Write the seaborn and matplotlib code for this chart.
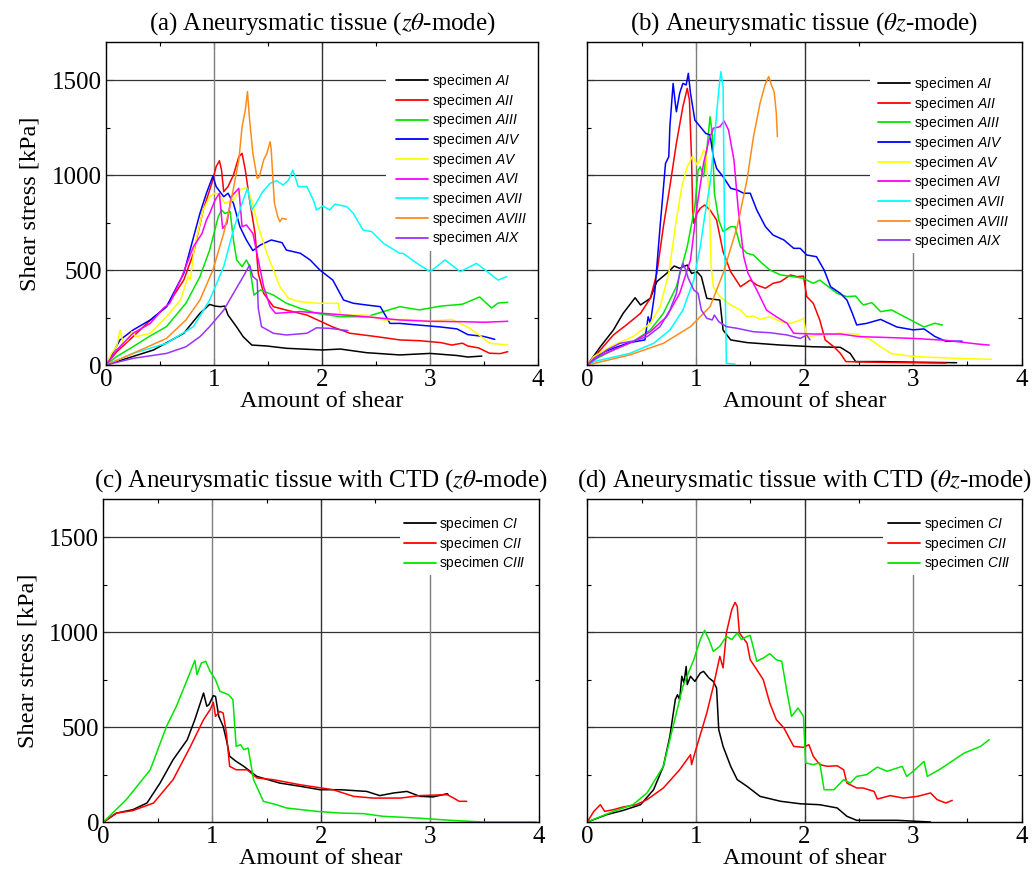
import matplotlib
matplotlib.use("Agg")
import matplotlib.pyplot as plt
import pandas as pd
import seaborn as sns
from matplotlib.lines import Line2D
from matplotlib.ticker import MultipleLocator

# ---------------- data: amount of shear (x) vs. shear stress in kPa (y) ----------------
# (a) aneurysmatic tissue, z-theta mode
A_AI_X = [0, 0.25, 0.44, 0.72, 0.87, 0.96, 1.01, 1.06, 1.10, 1.13, 1.21, 1.27, 1.35, 1.49, 1.67, 2.0, 2.17, 2.41, 2.72, 3.0, 3.25, 3.35, 3.48]
A_AI_Y = [0, 45, 79, 167, 272, 319, 310, 307, 310, 263, 200, 149, 105, 100, 88, 79, 84, 65, 53, 61, 50, 42, 47]
A_AII_X = [0, 0.1, 0.25, 0.4, 0.56, 0.72, 0.81, 0.90, 0.98, 1.02, 1.05, 1.07, 1.09, 1.13, 1.18, 1.23, 1.26, 1.29, 1.33, 1.38, 1.41, 1.46, 1.55, 1.67, 1.86, 2.1, 2.26, 2.51, 2.72, 2.9, 3.1, 3.2, 3.3, 3.35, 3.45, 3.55, 3.65, 3.72]
A_AII_Y = [0, 70, 149, 230, 307, 447, 588, 816, 956, 1044, 1075, 1026, 912, 939, 1000, 1096, 1114, 1026, 868, 693, 482, 377, 307, 289, 263, 200, 167, 149, 132, 128, 118, 105, 115, 100, 90, 62, 60, 70]
A_AIII_X = [0, 0.1, 0.25, 0.4, 0.56, 0.74, 0.87, 0.96, 1.04, 1.07, 1.10, 1.15, 1.18, 1.21, 1.26, 1.30, 1.33, 1.37, 1.43, 1.55, 1.67, 1.80, 1.95, 2.17, 2.41, 2.72, 2.9, 3.1, 3.3, 3.46, 3.57, 3.63, 3.72]
A_AIII_Y = [0, 45, 96, 150, 202, 325, 465, 605, 781, 816, 798, 807, 658, 553, 518, 553, 518, 368, 395, 368, 325, 298, 272, 254, 254, 307, 290, 310, 320, 358, 300, 326, 330]
A_AIV_X = [0, 0.13, 0.25, 0.41, 0.56, 0.72, 0.87, 0.93, 0.99, 1.02, 1.09, 1.13, 1.18, 1.24, 1.30, 1.36, 1.43, 1.53, 1.63, 1.67, 1.80, 1.89, 1.98, 2.1, 2.2, 2.29, 2.41, 2.54, 2.63, 2.72, 2.9, 3.1, 3.25, 3.35, 3.5, 3.6]
A_AIV_Y = [0, 132, 184, 237, 307, 482, 798, 904, 995, 939, 886, 904, 851, 728, 658, 602, 632, 658, 644, 605, 588, 553, 500, 447, 342, 325, 316, 307, 219, 219, 210, 200, 190, 160, 150, 135]
A_AV_X = [0, 0.05, 0.10, 0.13, 0.16, 0.20, 0.24, 0.28, 0.41, 0.56, 0.69, 0.76, 0.78, 0.82, 0.90, 0.96, 1.01, 1.05, 1.10, 1.18, 1.24, 1.30, 1.35, 1.41, 1.49, 1.55, 1.61, 1.69, 1.80, 1.95, 2.15, 2.17, 2.41, 2.57, 2.8, 3.0, 3.2, 3.35, 3.45, 3.55, 3.72]
A_AV_Y = [0, 60, 100, 184, 114, 130, 175, 149, 167, 254, 342, 465, 447, 623, 816, 886, 904, 900, 851, 868, 921, 935, 868, 728, 588, 500, 412, 351, 333, 325, 325, 263, 263, 237, 240, 230, 240, 200, 160, 115, 105]
A_AVI_X = [0, 0.1, 0.25, 0.41, 0.53, 0.59, 0.69, 0.81, 0.89, 0.93, 0.96, 1.01, 1.05, 1.08, 1.12, 1.16, 1.23, 1.26, 1.30, 1.36, 1.41, 1.46, 1.52, 1.57, 1.80, 2.10, 2.41, 2.72, 3.0, 3.3, 3.5, 3.72]
A_AVI_Y = [0, 80, 167, 219, 298, 325, 447, 623, 693, 763, 798, 868, 904, 719, 746, 886, 930, 728, 737, 693, 553, 412, 307, 272, 281, 268, 254, 237, 230, 228, 225, 230]
A_AVII_X = [0, 0.25, 0.56, 0.81, 0.96, 1.09, 1.18, 1.27, 1.31, 1.35, 1.39, 1.45, 1.52, 1.58, 1.64, 1.69, 1.73, 1.78, 1.86, 1.92, 1.95, 2.01, 2.07, 2.12, 2.23, 2.29, 2.38, 2.46, 2.57, 2.72, 2.75, 2.88, 3.0, 3.14, 3.28, 3.43, 3.52, 3.63, 3.71]
A_AVII_Y = [0, 61, 114, 202, 342, 518, 711, 868, 930, 816, 851, 912, 956, 970, 947, 974, 1026, 939, 939, 868, 816, 837, 816, 847, 833, 798, 711, 702, 640, 588, 588, 535, 491, 553, 491, 535, 496, 447, 465]
A_AVIII_X = [0, 0.25, 0.56, 0.74, 0.87, 0.99, 1.09, 1.16, 1.23, 1.26, 1.29, 1.31, 1.33, 1.36, 1.40, 1.42, 1.46, 1.49, 1.52, 1.53, 1.55, 1.56, 1.59, 1.61, 1.63, 1.67]
A_AVIII_Y = [0, 61, 140, 237, 342, 500, 693, 868, 1079, 1254, 1342, 1439, 1289, 1114, 982, 991, 1079, 1114, 1175, 1132, 939, 851, 781, 754, 772, 767]
A_AIX_X = [0, 0.25, 0.56, 0.74, 0.87, 0.96, 1.09, 1.18, 1.27, 1.33, 1.36, 1.40, 1.41, 1.44, 1.55, 1.67, 1.86, 1.95, 2.07, 2.24]
A_AIX_Y = [0, 35, 61, 96, 149, 202, 289, 377, 465, 526, 465, 447, 298, 202, 167, 158, 167, 196, 193, 181]

# (b) aneurysmatic tissue, theta-z mode
B_AI_X = [0, 0.12, 0.24, 0.33, 0.44, 0.49, 0.58, 0.64, 0.73, 0.80, 0.85, 0.92, 0.96, 1.01, 1.05, 1.10, 1.16, 1.22, 1.25, 1.32, 1.47, 1.78, 2.08, 2.33, 2.42, 2.47, 2.7, 3.0, 3.4]
B_AI_Y = [0, 96, 184, 272, 354, 316, 351, 439, 482, 521, 509, 526, 482, 491, 465, 351, 346, 342, 184, 132, 118, 105, 96, 93, 61, 18, 18, 15, 12]
B_AII_X = [0, 0.12, 0.24, 0.36, 0.49, 0.58, 0.64, 0.70, 0.76, 0.82, 0.88, 0.92, 0.94, 0.96, 0.97, 0.98, 1.01, 1.04, 1.08, 1.13, 1.19, 1.25, 1.32, 1.41, 1.50, 1.56, 1.64, 1.71, 1.78, 1.87, 1.93, 1.99, 2.02, 2.08, 2.14, 2.19, 2.27, 2.33, 2.38, 2.7, 3.0, 3.3]
B_AII_Y = [0, 79, 158, 211, 272, 351, 482, 728, 939, 1167, 1360, 1456, 1395, 1079, 816, 746, 798, 825, 842, 816, 763, 596, 491, 412, 447, 421, 404, 430, 439, 474, 465, 468, 360, 325, 237, 132, 96, 61, 18, 14, 12, 10]
B_AIII_X = [0, 0.06, 0.24, 0.42, 0.58, 0.70, 0.82, 0.92, 0.99, 1.02, 1.04, 1.07, 1.10, 1.13, 1.15, 1.17, 1.21, 1.25, 1.32, 1.36, 1.41, 1.47, 1.53, 1.61, 1.68, 1.78, 1.90, 1.99, 2.08, 2.14, 2.22, 2.30, 2.39, 2.47, 2.54, 2.62, 2.70, 2.8, 2.9, 3.0, 3.1, 3.2, 3.27]
B_AIII_Y = [0, 26, 79, 123, 184, 272, 412, 623, 833, 1026, 1044, 991, 1132, 1307, 1219, 904, 763, 702, 728, 728, 623, 588, 579, 535, 500, 474, 465, 456, 430, 447, 412, 377, 360, 363, 316, 328, 281, 290, 260, 230, 200, 220, 210]
B_AIV_X = [0, 0.12, 0.24, 0.39, 0.53, 0.56, 0.58, 0.62, 0.67, 0.72, 0.75, 0.76, 0.79, 0.81, 0.82, 0.85, 0.88, 0.91, 0.93, 0.95, 0.99, 1.04, 1.09, 1.13, 1.16, 1.19, 1.25, 1.32, 1.38, 1.44, 1.50, 1.56, 1.64, 1.71, 1.81, 1.90, 1.96, 2.02, 2.11, 2.18, 2.24, 2.33, 2.39, 2.44, 2.48, 2.57, 2.70, 2.85, 3.0, 3.1, 3.2, 3.3, 3.45]
B_AIV_Y = [0, 61, 88, 118, 132, 254, 219, 377, 728, 1061, 1096, 1254, 1482, 1377, 1333, 1430, 1482, 1474, 1535, 1430, 1289, 1254, 1219, 1211, 1096, 1035, 991, 930, 921, 904, 904, 816, 728, 684, 658, 614, 614, 579, 570, 500, 412, 377, 342, 272, 211, 219, 240, 200, 185, 190, 150, 125, 125]
B_AV_X = [0, 0.06, 0.24, 0.42, 0.58, 0.67, 0.75, 0.81, 0.87, 0.92, 0.97, 1.01, 1.05, 1.07, 1.09, 1.12, 1.14, 1.16, 1.22, 1.32, 1.41, 1.47, 1.53, 1.59, 1.68, 1.78, 1.87, 1.96, 1.99, 2.02, 2.14, 2.33, 2.48, 2.61, 2.70, 2.8, 3.0, 3.4, 3.72]
B_AV_Y = [0, 44, 105, 149, 219, 307, 482, 728, 939, 1044, 1100, 1053, 1096, 1132, 1114, 904, 518, 412, 360, 316, 289, 254, 258, 240, 254, 228, 219, 237, 246, 149, 158, 167, 163, 132, 96, 60, 45, 35, 30]
B_AVI_X = [0, 0.06, 0.24, 0.42, 0.58, 0.73, 0.85, 0.95, 1.01, 1.07, 1.12, 1.16, 1.22, 1.26, 1.30, 1.35, 1.39, 1.44, 1.48, 1.56, 1.65, 1.74, 1.84, 1.90, 2.08, 2.33, 2.51, 2.70, 3.0, 3.3, 3.6, 3.7]
B_AVI_Y = [0, 35, 79, 123, 175, 254, 377, 553, 833, 1061, 1184, 1246, 1254, 1284, 1237, 1079, 816, 570, 482, 395, 289, 254, 219, 167, 163, 163, 149, 146, 140, 130, 110, 105]
B_AVII_X = [0, 0.06, 0.39, 0.61, 0.76, 0.88, 0.98, 1.04, 1.08, 1.13, 1.18, 1.21, 1.23, 1.25, 1.26, 1.27, 1.28, 1.36]
B_AVII_Y = [0, 18, 61, 114, 184, 289, 447, 623, 781, 956, 1254, 1447, 1544, 1465, 904, 377, 9, 5]
B_AVIII_X = [0, 0.39, 0.70, 0.95, 1.13, 1.25, 1.38, 1.47, 1.53, 1.59, 1.64, 1.67, 1.70, 1.72, 1.74, 1.75]
B_AVIII_Y = [0, 53, 114, 202, 307, 482, 728, 974, 1202, 1377, 1482, 1518, 1465, 1439, 1325, 1202]
B_AIX_X = [0, 0.06, 0.18, 0.30, 0.42, 0.55, 0.67, 0.76, 0.82, 0.85, 0.88, 0.90, 0.93, 0.98, 1.02, 1.05, 1.10, 1.15, 1.17, 1.21, 1.28, 1.38, 1.53, 1.68, 1.84, 1.96, 2.02, 2.05]
B_AIX_Y = [0, 26, 79, 114, 126, 149, 202, 289, 377, 482, 535, 509, 456, 395, 377, 289, 246, 237, 263, 228, 202, 193, 175, 170, 158, 140, 158, 132]

# (c) aneurysmatic tissue with CTD, z-theta mode
C_CI_X = [0, 0.12, 0.27, 0.40, 0.52, 0.64, 0.77, 0.84, 0.89, 0.92, 0.95, 0.97, 1.01, 1.03, 1.06, 1.10, 1.13, 1.16, 1.22, 1.29, 1.41, 1.62, 1.81, 1.99, 2.18, 2.42, 2.54, 2.67, 2.79, 2.91, 3.03, 3.16, 3.17]
C_CI_Y = [0, 47, 65, 100, 205, 328, 433, 539, 626, 679, 609, 618, 665, 661, 556, 504, 433, 346, 319, 293, 240, 205, 188, 170, 170, 161, 139, 153, 161, 135, 132, 149, 144]
C_CII_X = [0, 0.12, 0.27, 0.46, 0.64, 0.80, 0.92, 0.98, 1.01, 1.03, 1.07, 1.10, 1.13, 1.16, 1.22, 1.32, 1.41, 1.56, 1.81, 2.11, 2.30, 2.48, 2.73, 2.91, 3.16, 3.22, 3.27, 3.34]
C_CII_Y = [0, 47, 60, 100, 223, 398, 539, 591, 630, 556, 582, 574, 468, 293, 275, 275, 232, 223, 196, 170, 135, 126, 126, 139, 144, 126, 109, 109]
C_CIII_X = [0, 0.21, 0.43, 0.58, 0.67, 0.77, 0.84, 0.86, 0.90, 0.94, 0.98, 1.03, 1.07, 1.15, 1.19, 1.22, 1.26, 1.29, 1.33, 1.38, 1.47, 1.59, 1.68, 1.96, 2.18, 2.39, 2.57, 2.88, 3.19, 3.49, 3.98]
C_CIII_Y = [0, 118, 275, 504, 609, 749, 851, 775, 837, 846, 793, 749, 688, 670, 644, 398, 407, 381, 389, 223, 109, 91, 74, 56, 47, 44, 30, 21, 9, 0, 0]

# (d) aneurysmatic tissue with CTD, theta-z mode
D_CI_X = [0, 0.18, 0.33, 0.49, 0.61, 0.70, 0.76, 0.81, 0.83, 0.85, 0.87, 0.89, 0.91, 0.92, 0.95, 0.99, 1.04, 1.07, 1.12, 1.16, 1.19, 1.21, 1.25, 1.32, 1.38, 1.47, 1.59, 1.78, 1.96, 2.14, 2.30, 2.39, 2.48, 2.85, 3.16]
D_CI_Y = [0, 39, 61, 91, 170, 293, 451, 644, 670, 644, 767, 732, 819, 723, 767, 740, 784, 793, 758, 740, 705, 486, 398, 293, 223, 188, 135, 109, 96, 91, 74, 30, 9, 9, 0]
D_CII_X = [0, 0.06, 0.12, 0.16, 0.24, 0.33, 0.45, 0.55, 0.70, 0.85, 0.95, 0.96, 0.99, 1.10, 1.16, 1.22, 1.25, 1.28, 1.33, 1.36, 1.38, 1.40, 1.47, 1.50, 1.56, 1.62, 1.68, 1.74, 1.81, 1.90, 1.99, 2.04, 2.08, 2.14, 2.21, 2.30, 2.36, 2.39, 2.48, 2.54, 2.64, 2.67, 2.79, 2.91, 3.04, 3.16, 3.22, 3.30, 3.36]
D_CII_Y = [0, 56, 91, 56, 65, 79, 91, 118, 179, 275, 354, 302, 363, 574, 714, 872, 811, 995, 1118, 1156, 1135, 995, 942, 854, 802, 749, 626, 539, 495, 398, 393, 407, 346, 302, 293, 296, 275, 205, 179, 179, 161, 121, 139, 126, 135, 153, 118, 100, 114]
D_CIII_X = [0, 0.24, 0.42, 0.55, 0.70, 0.79, 0.88, 0.98, 1.04, 1.08, 1.12, 1.16, 1.22, 1.28, 1.33, 1.38, 1.42, 1.47, 1.50, 1.56, 1.62, 1.68, 1.74, 1.79, 1.84, 1.88, 1.94, 1.99, 2.01, 2.08, 2.14, 2.18, 2.27, 2.36, 2.42, 2.48, 2.57, 2.67, 2.76, 2.90, 2.94, 3.00, 3.10, 3.13, 3.25, 3.47, 3.62, 3.70]
D_CIII_Y = [0, 56, 91, 153, 293, 504, 714, 854, 960, 1009, 960, 898, 925, 977, 960, 995, 960, 977, 982, 846, 863, 886, 854, 846, 679, 556, 600, 556, 311, 302, 311, 170, 170, 223, 205, 240, 249, 289, 267, 293, 240, 267, 319, 240, 279, 363, 398, 433]

A_NAMES = ["AI", "AII", "AIII", "AIV", "AV", "AVI", "AVII", "AVIII", "AIX"]
C_NAMES = ["CI", "CII", "CIII"]
A_COLORS = ["#000000", "#ff0000", "#00e600", "#0000ff", "#ffff00", "#ff00ff", "#00ffff", "#ff8c1a", "#9933ff"]
C_COLORS = ["#000000", "#ff0000", "#00e600"]

TITLES = [
    r"(a) Aneurysmatic tissue ($z\theta$-mode)",
    r"(b) Aneurysmatic tissue ($\theta z$-mode)",
    r"(c) Aneurysmatic tissue with CTD ($z\theta$-mode)",
    r"(d) Aneurysmatic tissue with CTD ($\theta z$-mode)",
]
X_TICKS = [0, 1, 2, 3, 4]
Y_TICKS = [0, 500, 1000, 1500]

PANELS = [
    (A_NAMES, A_COLORS, [(A_AI_X, A_AI_Y), (A_AII_X, A_AII_Y), (A_AIII_X, A_AIII_Y), (A_AIV_X, A_AIV_Y),
                         (A_AV_X, A_AV_Y), (A_AVI_X, A_AVI_Y), (A_AVII_X, A_AVII_Y), (A_AVIII_X, A_AVIII_Y),
                         (A_AIX_X, A_AIX_Y)]),
    (A_NAMES, A_COLORS, [(B_AI_X, B_AI_Y), (B_AII_X, B_AII_Y), (B_AIII_X, B_AIII_Y), (B_AIV_X, B_AIV_Y),
                         (B_AV_X, B_AV_Y), (B_AVI_X, B_AVI_Y), (B_AVII_X, B_AVII_Y), (B_AVIII_X, B_AVIII_Y),
                         (B_AIX_X, B_AIX_Y)]),
    (C_NAMES, C_COLORS, [(C_CI_X, C_CI_Y), (C_CII_X, C_CII_Y), (C_CIII_X, C_CIII_Y)]),
    (C_NAMES, C_COLORS, [(D_CI_X, D_CI_Y), (D_CII_X, D_CII_Y), (D_CIII_X, D_CIII_Y)]),
]

# ---------------- style ----------------
sns.set_style("ticks")
plt.rcParams.update({
    "font.family": ["Liberation Serif", "DejaVu Serif"],
    "mathtext.fontset": "custom",
    "mathtext.rm": "Liberation Sans",
    "mathtext.it": "Liberation Sans:italic",
    "mathtext.bf": "Liberation Sans:bold",
    "text.color": "black",
    "axes.edgecolor": "black",
    "axes.labelcolor": "black",
    "xtick.color": "black",
    "ytick.color": "black",
    "xtick.direction": "in",
    "ytick.direction": "in",
    "xtick.top": True,
    "ytick.right": True,
})

fig = plt.figure(figsize=(10.36, 8.77), dpi=100)
# axes rectangles [left, bottom, width, height]
rects = [
    [0.1023, 0.5838, 0.4170, 0.3683],
    [0.5669, 0.5838, 0.4194, 0.3683],
    [0.0999, 0.0627, 0.4199, 0.3683],
    [0.5669, 0.0627, 0.4194, 0.3683],
]
# white legend backdrop (x start, lower edge as axes fraction) and legend anchor
legend_boxes = [(2.59, 0.353), (2.60, 0.347), (2.73, 0.765), (2.72, 0.765)]
legend_anchor = [(0.672, 0.907), (0.670, 0.898), (0.690, 0.950), (0.693, 0.950)]

for i, (names, colors, series) in enumerate(PANELS):
    ax = fig.add_axes(rects[i])
    frames = [pd.DataFrame({"strain": x, "stress": y, "specimen": n})
              for n, (x, y) in zip(names, series)]
    df = pd.concat(frames, ignore_index=True)
    sns.lineplot(data=df, x="strain", y="stress", hue="specimen", hue_order=names,
                 palette=colors, estimator=None, sort=False, legend=False,
                 linewidth=1.1, ax=ax, zorder=2)

    ax.set_xlim(0, 4)
    ax.set_ylim(0, 1700)

    # grid
    for v in (500, 1000, 1500):
        ax.axhline(v, color="#333333", lw=0.9, zorder=1)
    for v, c in ((1, "#7f7f7f"), (2, "#333333"), (3, "#7f7f7f")):
        ax.axvline(v, color=c, lw=1.0, zorder=1)
    x0, yfrac = legend_boxes[i]
    ax.axvspan(x0, 4, ymin=yfrac, ymax=1, facecolor="white", edgecolor="none", zorder=1.2)

    # ticks
    ax.set_xticks(X_TICKS)
    ax.set_yticks(Y_TICKS)
    ax.xaxis.set_minor_locator(MultipleLocator(0.5))
    ax.yaxis.set_minor_locator(MultipleLocator(250))
    ax.tick_params(which="major", length=5, width=0.8, labelsize=18, pad=3,
                   top=True, right=True, direction="in")
    ax.tick_params(which="minor", length=3, width=0.8, top=True, right=True, direction="in")
    for sp in ax.spines.values():
        sp.set_linewidth(1.0)
        sp.set_color("black")

    ax.set_xlabel("Amount of shear", fontsize=17.5, labelpad=0)
    if i % 2 == 0:
        ax.set_ylabel("Shear stress [kPa]", fontsize=17.5, labelpad=8)
    else:
        ax.set_ylabel("")
        ax.tick_params(labelleft=False)

    ax.set_title(TITLES[i], fontsize=18, pad=9, math_fontfamily="stix")

    handles = [Line2D([], [], color=c, lw=1.3) for c in colors]
    labels = ["specimen $%s$" % n for n in names]
    ax.legend(handles, labels, loc="upper left", bbox_to_anchor=legend_anchor[i],
              frameon=False, borderpad=0, borderaxespad=0, handlelength=2.3,
              handletextpad=0.25, labelspacing=0.12,
              prop={"family": "Liberation Sans", "size": 10})

fig.savefig("out.png", dpi=100)
